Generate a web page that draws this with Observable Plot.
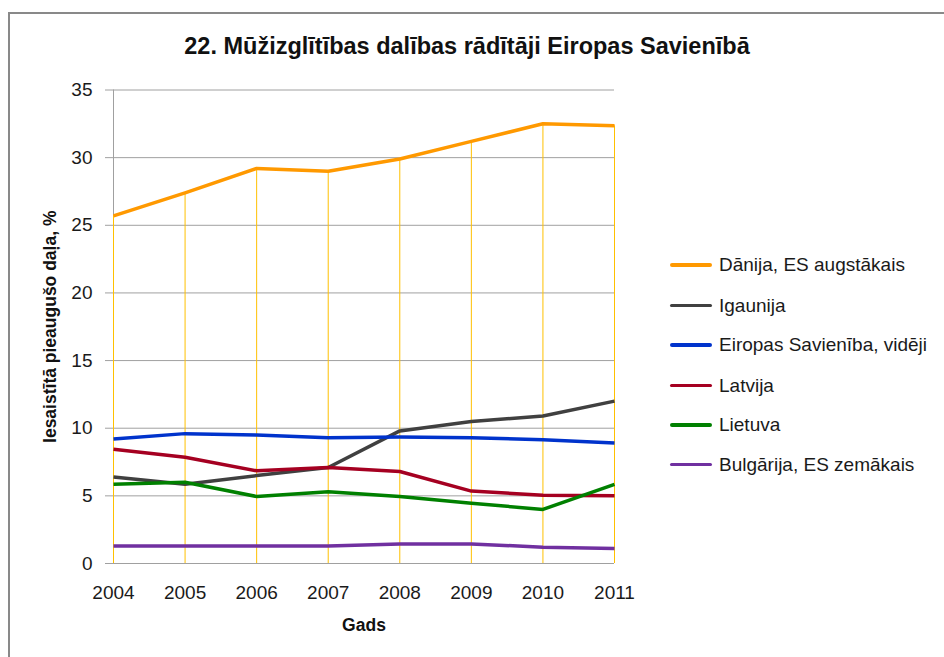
<!DOCTYPE html>
<html>
<head>
<meta charset="utf-8">
<script src="https://cdn.jsdelivr.net/npm/d3@7"></script>
<script src="https://cdn.jsdelivr.net/npm/@observablehq/plot@0.6"></script>
<style>
  html, body { margin: 0; padding: 0; background: #fff; width: 944px; height: 657px; overflow: hidden; }
  #wrap { position: relative; width: 944px; height: 657px; font-family: "Liberation Sans", Arial, sans-serif; }
  #border { position: absolute; left: 8px; top: 12px; width: 1000px; height: 700px; border: 2px solid #898989; box-sizing: border-box; }
  #title { position: absolute; left: 0; width: 934px; top: 33px; text-align: center; font-weight: bold; font-size: 23.5px; color: #111; }
  #chart { position: absolute; left: 0; top: 0; }
  #legend { position: absolute; left: 670px; top: 0; }
  .item { position: absolute; left: 0; height: 24px; white-space: nowrap; }
  .swatch { position: absolute; left: 0; width: 42px; height: 3.5px; border-radius: 2px; }
  .lab { position: absolute; left: 49px; font-size: 19px; color: #1a1a1a; line-height: 24px; top: -12px; }
</style>
</head>
<body>
<div id="wrap">
  <div id="border"></div>
  <div id="chart"></div>
  <div id="title"></div>
  <div id="legend"></div>
</div>
<script>
const titleText = "22. Mūžizglītības dalības rādītāji Eiropas Savienībā";
const yLabel = "Iesaistītā pieaugušo daļa, %";
const xLabel = "Gads";
const years = [2004, 2005, 2006, 2007, 2008, 2009, 2010, 2011];
const yTicks = [0, 5, 10, 15, 20, 25, 30, 35];
const seriesNames = ["Dānija, ES augstākais", "Igaunija", "Eiropas Savienība, vidēji", "Latvija", "Lietuva", "Bulgārija, ES zemākais"];
const seriesColors = ["#FF9900", "#404040", "#0033CC", "#A50021", "#008000", "#7030A0"];
const dania     = [25.7, 27.4, 29.2, 29.0, 29.9, 31.2, 32.5, 32.35];
const igaunija  = [6.4, 5.85, 6.5, 7.1, 9.8, 10.5, 10.9, 12.0];
const esVideji  = [9.2, 9.6, 9.5, 9.3, 9.35, 9.3, 9.15, 8.9];
const latvija   = [8.45, 7.85, 6.85, 7.1, 6.8, 5.35, 5.05, 5.0];
const lietuva   = [5.85, 6.0, 4.95, 5.3, 4.95, 4.45, 4.0, 5.85];
const bulgarija = [1.3, 1.3, 1.3, 1.3, 1.45, 1.45, 1.2, 1.1];
const seriesValues = [dania, igaunija, esVideji, latvija, lietuva, bulgarija];

const rows = [];
seriesNames.forEach((name, s) => {
  years.forEach((yr, i) => rows.push({series: name, year: yr, value: seriesValues[s][i]}));
});
const drops = years.map((yr, i) => ({year: yr, top: dania[i]}));

document.getElementById("title").textContent = titleText;

const chart = Plot.plot({
  width: 944,
  height: 657,
  marginLeft: 113,
  marginRight: 330,
  marginTop: 89.5,
  marginBottom: 94,
  style: {fontFamily: "'Liberation Sans', Arial, sans-serif", fontSize: "19px", color: "#1a1a1a", background: "transparent"},
  x: {domain: [2004, 2011]},
  y: {domain: [0, 35]},
  color: {domain: seriesNames, range: seriesColors},
  marks: [
    Plot.gridY(yTicks, {stroke: "#a0a0a0", strokeOpacity: 1, strokeWidth: 1}),
    Plot.axisY(yTicks, {tickSize: 8, tickPadding: 13, stroke: "#a0a0a0", fill: "#1a1a1a", fontSize: 19, label: null}),
    Plot.axisX(years, {tickSize: 0, tickPadding: 22, tickFormat: "d", fill: "#1a1a1a", fontSize: 19, label: null}),
    Plot.ruleX([2004], {stroke: "#a0a0a0", strokeWidth: 1}),
    Plot.ruleX(drops, {x: "year", y1: 0, y2: "top", stroke: "#FFC000", strokeWidth: 1}),
    Plot.line(rows, {x: "year", y: "value", z: "series", stroke: "series", strokeWidth: 3.5, strokeLinejoin: "round", strokeLinecap: "butt"}),
    Plot.text([yLabel], {frameAnchor: "left", rotate: -90, dx: -63, fontWeight: "bold", fontSize: 17.5, fill: "#111", textAnchor: "middle", lineAnchor: "middle"}),
    Plot.text([xLabel], {frameAnchor: "bottom", dy: 55, fontWeight: "bold", fontSize: 17.5, fill: "#111", textAnchor: "middle", lineAnchor: "top"})
  ]
});
document.getElementById("chart").appendChild(chart);

const legendYs = [265, 305.5, 345, 385.5, 425, 464.5];
const legend = document.getElementById("legend");
seriesNames.forEach((name, i) => {
  const it = document.createElement("div");
  it.className = "item";
  it.style.top = legendYs[i] + "px";
  const sw = document.createElement("div");
  sw.className = "swatch";
  sw.style.background = seriesColors[i];
  sw.style.top = "-1.75px";
  const lb = document.createElement("div");
  lb.className = "lab";
  lb.textContent = name;
  it.appendChild(sw);
  it.appendChild(lb);
  legend.appendChild(it);
});
</script>
</body>
</html>
